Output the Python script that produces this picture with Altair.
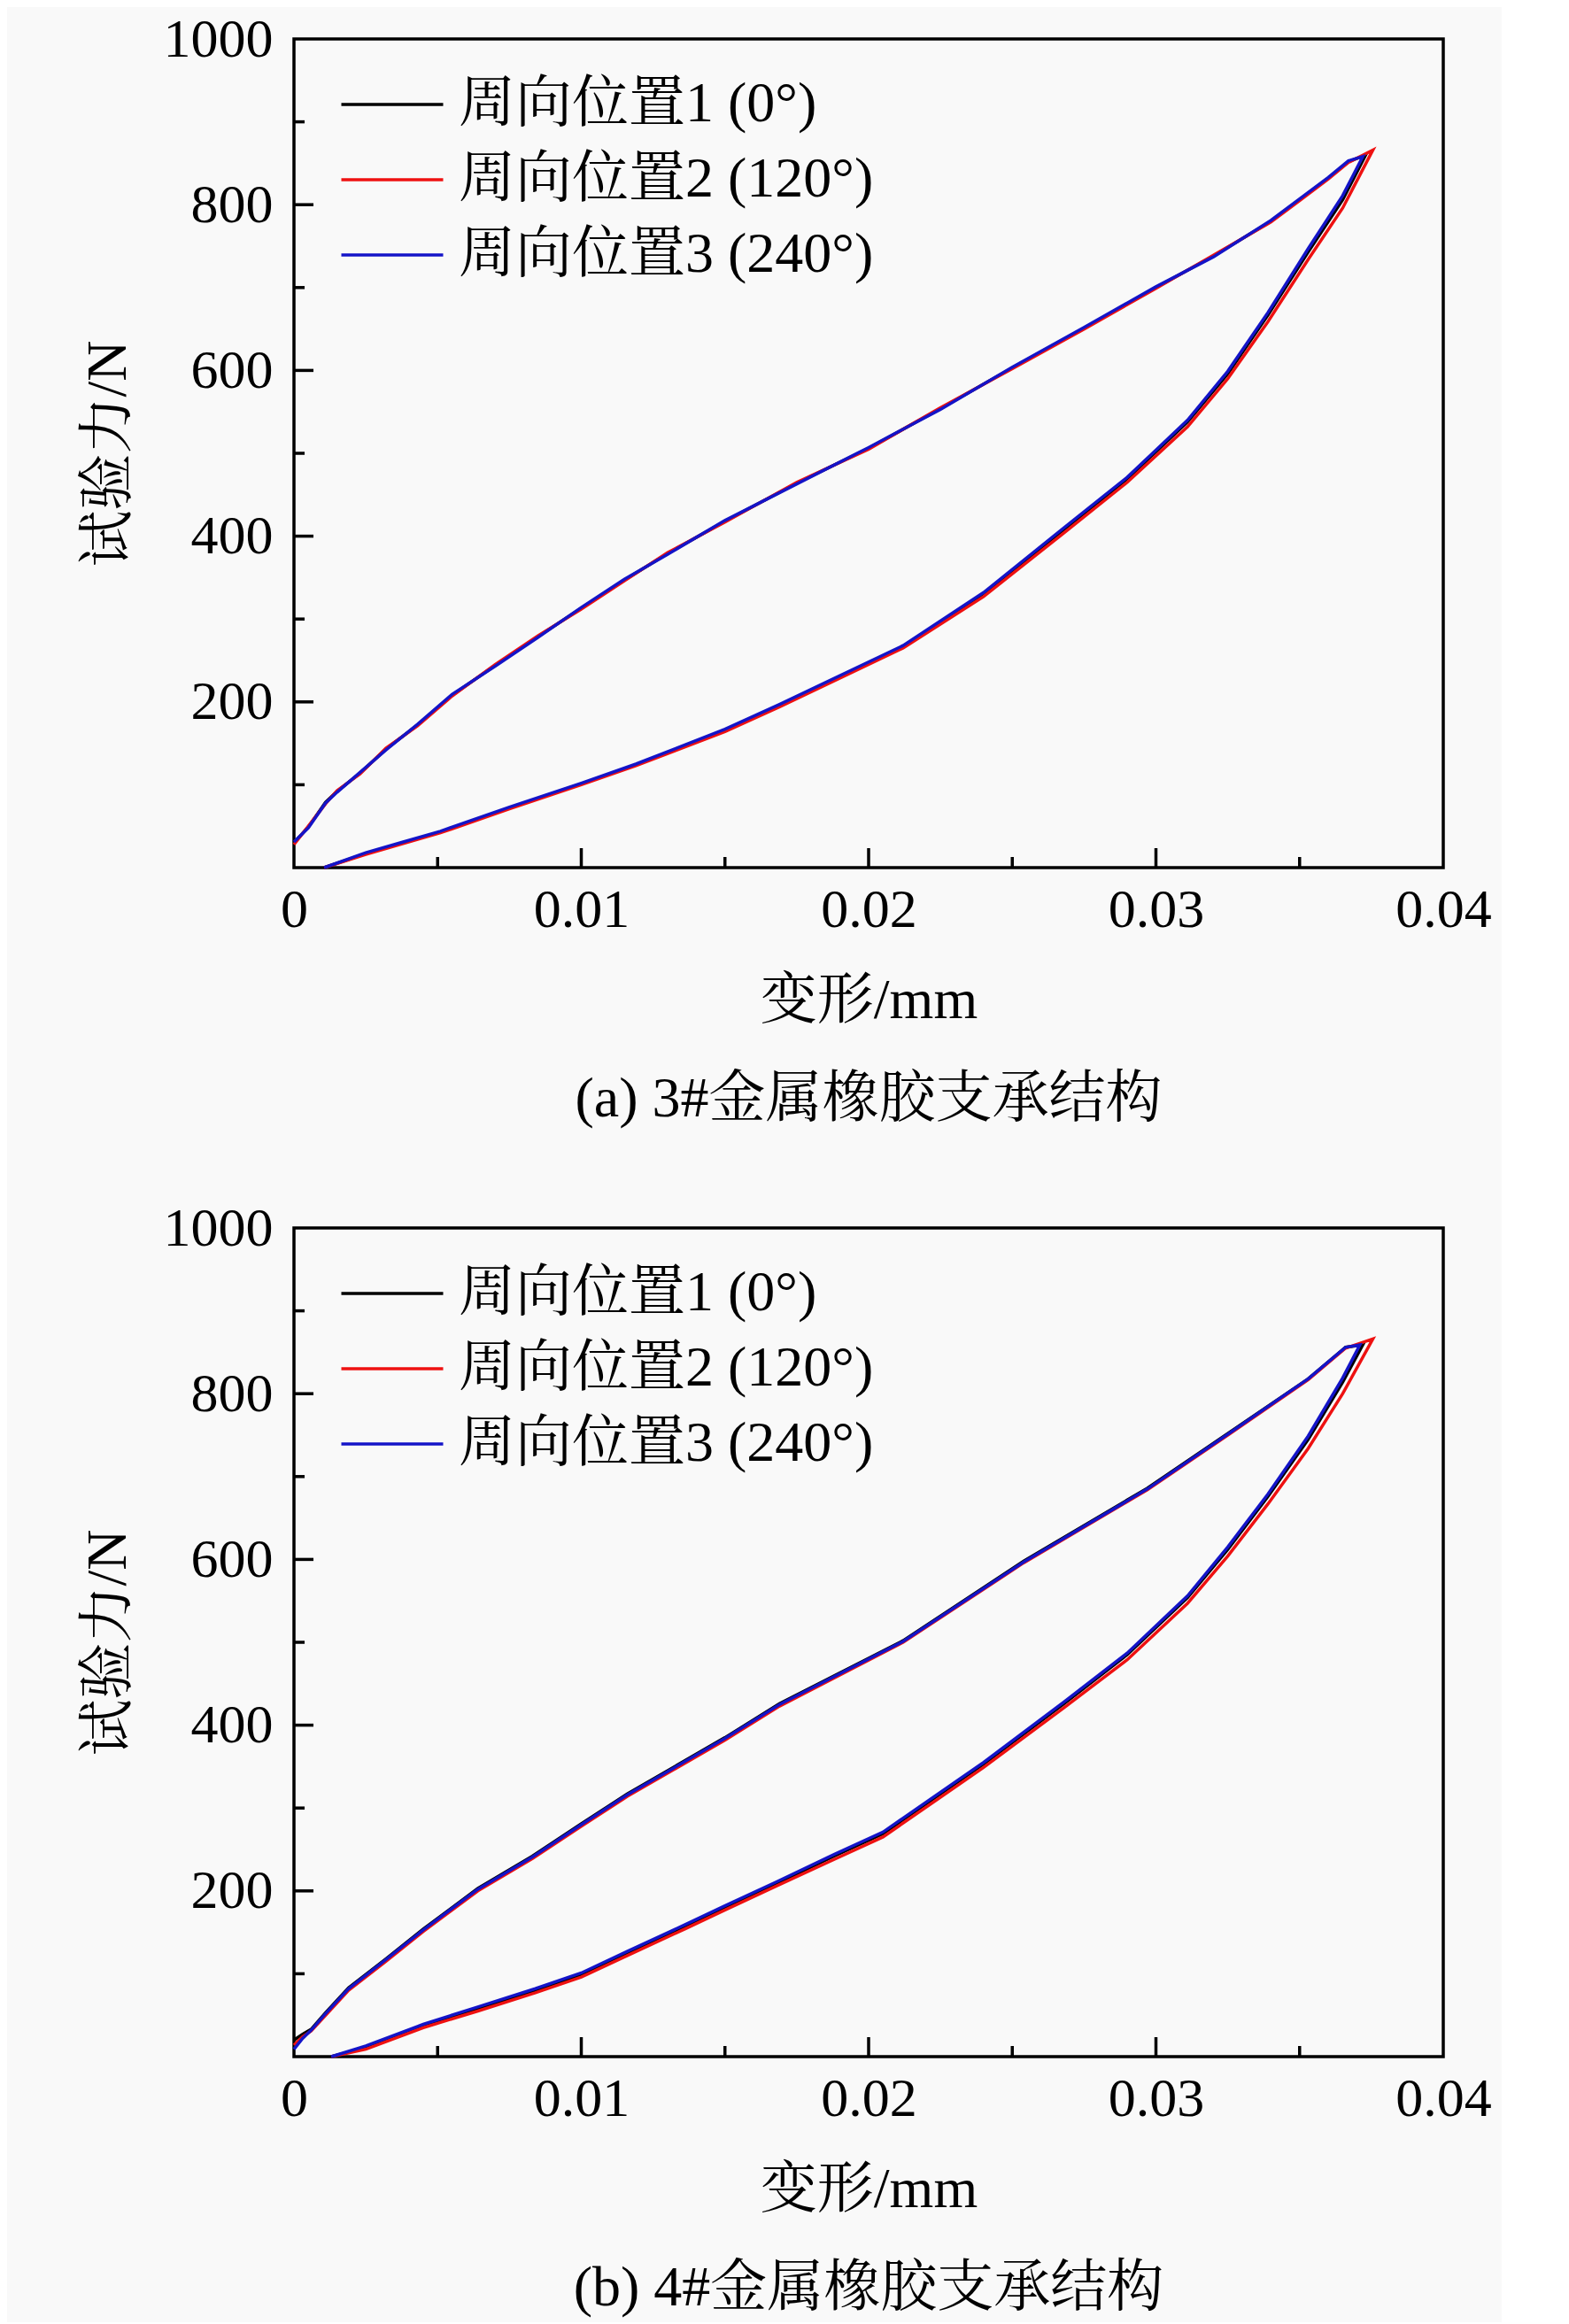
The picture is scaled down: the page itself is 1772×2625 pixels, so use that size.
import altair as alt
import pandas as pd

FONT = "Liberation Serif, Noto Serif CJK SC, Noto Sans CJK SC"
NAMES = ["周向位置1 (0°)", "周向位置2 (120°)", "周向位置3 (240°)"]
COLORS = ["#000000", "#ee1111", "#1414c8"]

# ---------------- panel (a) ----------------
A_UP_X = [0, 0.0005, 0.0011, 0.0015, 0.0023, 0.0032, 0.0043, 0.0055, 0.007, 0.0085, 0.01,
          0.0115, 0.013, 0.015, 0.0175, 0.02, 0.0225, 0.025, 0.0275, 0.03, 0.032, 0.034,
          0.035, 0.036, 0.0367]
A1_UP_Y = [30, 49, 79, 92, 114, 143, 172, 208, 244, 279, 313, 347, 379, 418, 464, 506, 554,
           603, 651, 700, 738, 780, 806, 832, 852]
A2_UP_Y = [28, 50, 77, 93, 113, 144, 171, 207, 245, 280, 312, 346, 380, 417, 465, 505, 555,
           602, 650, 699, 739, 779, 805, 831, 851]
A3_UP_Y = [31, 48, 78, 91, 115, 142, 173, 209, 243, 278, 314, 348, 378, 419, 463, 507, 553,
           604, 652, 701, 737, 781, 807, 833, 853]
A_PEAK_X = [0.0373, 0.03755, 0.0372]
A_PEAK_Y = [860, 866, 858]
A_LO_X = [0.0365, 0.0353, 0.0339, 0.0325, 0.0311, 0.029, 0.0268, 0.024, 0.0212, 0.0169,
          0.015, 0.0119, 0.01, 0.0075, 0.0051, 0.0038, 0.0025, 0.00105]
A1_LO_Y = [806, 743, 667, 596, 538, 469, 408, 330, 267, 196, 166, 124, 101, 72, 43, 30, 17, 0]
A2_LO_Y = [796, 734, 659, 590, 532, 465, 404, 327, 265, 194, 164, 123, 100, 71, 42, 29, 16, 0]
A3_LO_Y = [811, 747, 670, 599, 540, 471, 410, 332, 268, 197, 167, 125, 102, 73, 44, 31, 18, 0]

# ---------------- panel (b) ----------------
B_UP_X = [0, 0.0003, 0.0006, 0.0011, 0.0019, 0.0032, 0.0045, 0.0064, 0.0083, 0.01, 0.0116,
          0.015, 0.0169, 0.0212, 0.0254, 0.0297, 0.0325, 0.0353, 0.0366]
B1_UP_Y = [20, 27, 33, 53, 83, 118, 154, 203, 242, 281, 317, 385, 426, 502, 598, 686, 752,
           818, 856]
B2_UP_Y = [14, 24, 31, 50, 80, 115, 151, 200, 239, 278, 314, 382, 423, 500, 596, 684, 750,
           817, 855]
B3_UP_Y = [9, 22, 32, 52, 82, 117, 153, 202, 241, 280, 316, 384, 425, 501, 597, 685, 751,
           818, 856]
B_PEAK_X = [0.0372, 0.03755, 0.0371]
B_PEAK_Y = [859, 866, 859]
B_LO_X = [0.0365, 0.0353, 0.0339, 0.0325, 0.0311, 0.029, 0.0268, 0.024, 0.0205, 0.0188,
          0.0168, 0.015, 0.0136, 0.0116, 0.01, 0.0084, 0.0064, 0.0045, 0.0025, 0.0013]
B1_LO_Y = [814, 745, 676, 612, 554, 485, 426, 353, 269, 242, 209, 180, 157, 125, 99, 80, 58,
           37, 11, 0]
B2_LO_Y = [800, 734, 667, 604, 547, 479, 421, 349, 265, 238, 206, 177, 154, 122, 96, 77, 55,
           35, 9, 0]
B3_LO_Y = [819, 749, 679, 615, 556, 487, 428, 355, 271, 244, 211, 182, 159, 127, 101, 82, 60,
           39, 13, 0]

X_LABELS = [0, 0.01, 0.02, 0.03, 0.04]
Y_LABELS = [200, 400, 600, 800, 1000]
X_MAJOR = [0.01, 0.02, 0.03]
X_MINOR = [0.005, 0.015, 0.025, 0.035]
Y_MAJOR = [200, 400, 600, 800]
Y_MINOR = [100, 300, 500, 700, 900]

W, H = 1298, 936


def build(up_x, up_ys, peak_x, peak_y, lo_x, lo_ys):
    rows = []
    for s in range(3):
        xs = list(up_x) + [peak_x[s]] + list(lo_x)
        ys = list(up_ys[s]) + [peak_y[s]] + list(lo_ys[s])
        for i, (xv, yv) in enumerate(zip(xs, ys)):
            rows.append({"series": NAMES[s], "i": i, "x": xv, "y": yv})
    return pd.DataFrame(rows)


x_axis = alt.Axis(values=X_LABELS, format="~g", ticks=False, domain=False, grid=False,
                  labelFont=FONT, labelFontSize=62, labelColor="black", labelPadding=17,
                  labelFlush=False, title="变形/mm", titleFont=FONT, titleFontSize=64,
                  titleFontWeight="normal", titleColor="black", titlePadding=40)
y_axis = alt.Axis(values=Y_LABELS, format="d", ticks=False, domain=False, grid=False,
                  labelFont=FONT, labelFontSize=62, labelColor="black", labelPadding=24,
                  labelFlush=False, title="试验力/N", titleFont=FONT, titleFontSize=64,
                  titleFontWeight="normal", titleColor="black", titlePadding=30)
x_scale = alt.Scale(domain=[0, 0.04], nice=False, zero=False)
y_scale = alt.Scale(domain=[0, 1000], nice=False, zero=False)


def panel(df, caption):
    lines = alt.Chart(df).mark_line(strokeWidth=3.5).encode(
        x=alt.X("x:Q", scale=x_scale, axis=x_axis),
        y=alt.Y("y:Q", scale=y_scale, axis=y_axis),
        color=alt.Color("series:N", sort=NAMES,
                        scale=alt.Scale(domain=NAMES, range=COLORS),
                        legend=alt.Legend(orient="none", legendX=79, legendY=42, title=None,
                                          symbolType="M -2 0 L 2 0", symbolSize=3306,
                                          symbolStrokeWidth=3.5, symbolFillColor="transparent",
                                          labelFont=FONT, labelFontSize=64, labelColor="black",
                                          labelOffset=43, rowPadding=21, padding=0,
                                          labelLimit=800)),
        order="i:Q",
    )
    xmaj = alt.Chart(pd.DataFrame({"x": X_MAJOR})).mark_rule(color="black", strokeWidth=3.5).encode(
        x=alt.X("x:Q", scale=x_scale, axis=x_axis), y=alt.value(H), y2=alt.value(H - 22))
    xmin = alt.Chart(pd.DataFrame({"x": X_MINOR})).mark_rule(color="black", strokeWidth=3.5).encode(
        x=alt.X("x:Q", scale=x_scale, axis=x_axis), y=alt.value(H), y2=alt.value(H - 12))
    ymaj = alt.Chart(pd.DataFrame({"y": Y_MAJOR})).mark_rule(color="black", strokeWidth=3.5).encode(
        y=alt.Y("y:Q", scale=y_scale, axis=y_axis), x=alt.value(0), x2=alt.value(22))
    ymin = alt.Chart(pd.DataFrame({"y": Y_MINOR})).mark_rule(color="black", strokeWidth=3.5).encode(
        y=alt.Y("y:Q", scale=y_scale, axis=y_axis), x=alt.value(0), x2=alt.value(12))
    return alt.layer(xmaj, xmin, ymaj, ymin, lines).properties(
        width=W, height=H,
        title=alt.TitleParams(text=caption, orient="bottom", anchor="middle", font=FONT,
                              fontSize=64, fontWeight="normal", color="black", offset=48),
    )


dfa = build(A_UP_X, [A1_UP_Y, A2_UP_Y, A3_UP_Y], A_PEAK_X, A_PEAK_Y, A_LO_X,
            [A1_LO_Y, A2_LO_Y, A3_LO_Y])
dfb = build(B_UP_X, [B1_UP_Y, B2_UP_Y, B3_UP_Y], B_PEAK_X, B_PEAK_Y, B_LO_X,
            [B1_LO_Y, B2_LO_Y, B3_LO_Y])

chart = alt.vconcat(
    panel(dfa, "(a) 3#金属橡胶支承结构"),
    panel(dfb, "(b) 4#金属橡胶支承结构"),
    spacing=78,
).resolve_scale(color="independent").resolve_legend(color="independent").properties(
    background="#f9f9f9",
    padding={"left": 80, "top": 3, "right": 10, "bottom": 4},
).configure_view(stroke="black", strokeWidth=3.5)

chart.save("out.html", embed_options={"renderer": "svg", "actions": False})
